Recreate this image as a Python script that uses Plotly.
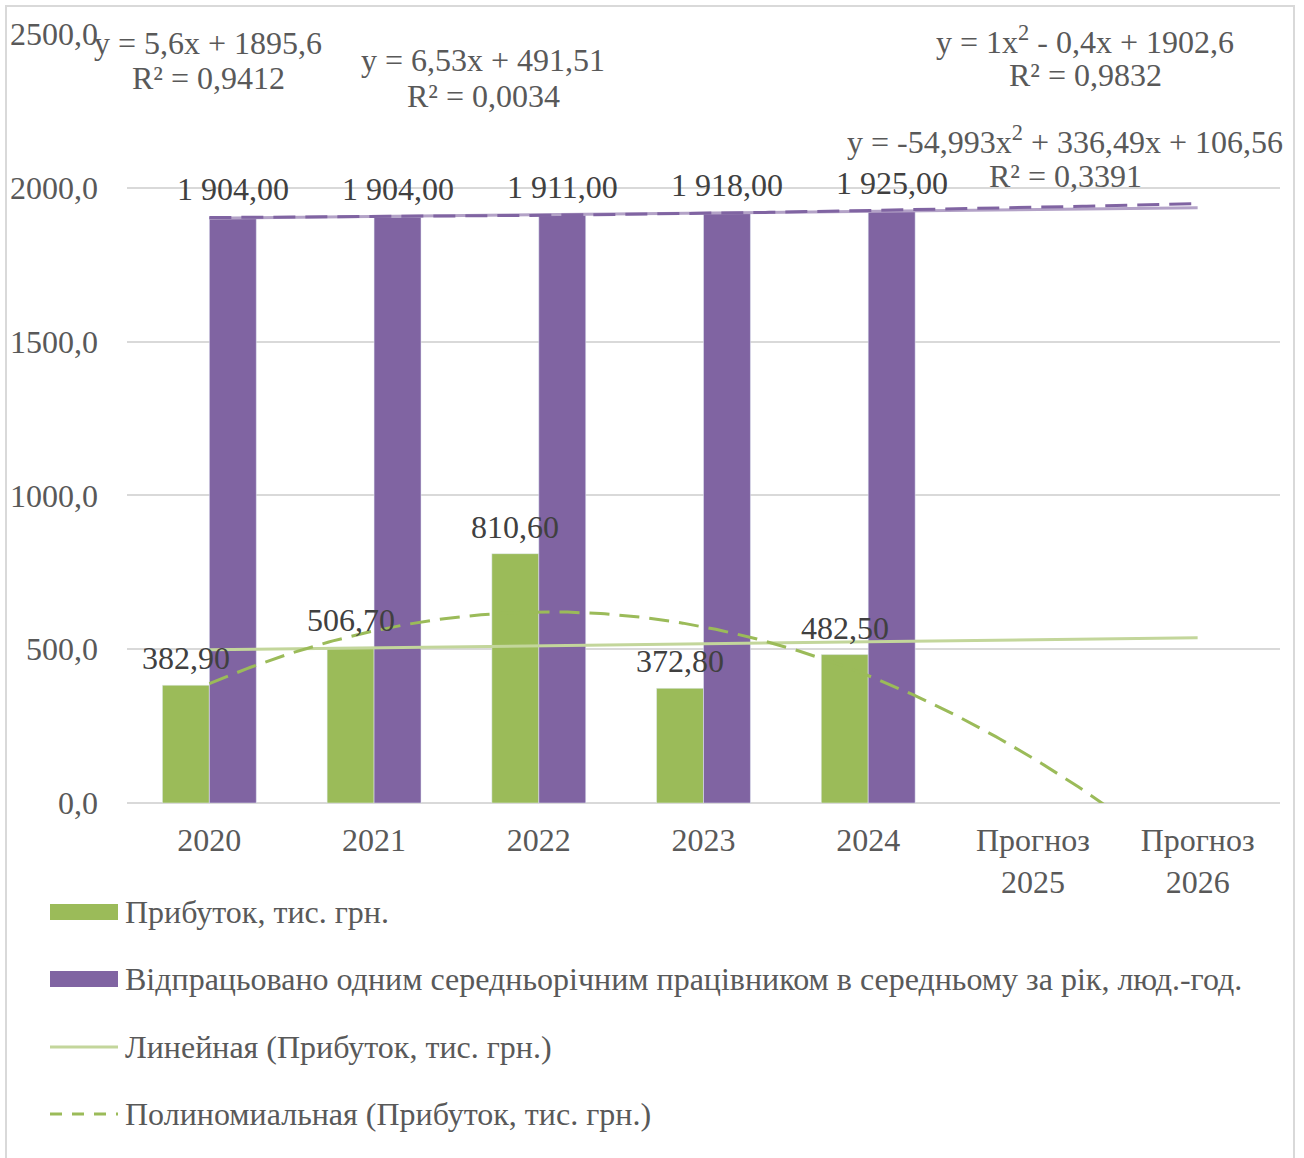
import numpy as np
import plotly.graph_objects as go

# ---------------- data ----------------
categories = ["2020", "2021", "2022", "2023", "2024", "Прогноз<br>2025", "Прогноз<br>2026"]
profit = [382.9, 506.7, 810.6, 372.8, 482.5]
hours = [1904.0, 1904.0, 1911.0, 1918.0, 1925.0]
profit_name = "Прибуток, тис. грн."
hours_name = "Відпрацьовано одним середньорічним працівником в середньому за рік, люд.-год."
trend_names = ["Линейная (Прибуток, тис. грн.)", "Полиномиальная (Прибуток, тис. грн.)"]
y_ticks = [0, 500, 1000, 1500, 2000, 2500]
eq_hours_lin = ["y = 5,6x + 1895,6", "R² = 0,9412"]
eq_profit_lin = ["y = 6,53x + 491,51", "R² = 0,0034"]
eq_hours_poly = ["y = 1x<sup>2</sup> - 0,4x + 1902,6", "R² = 0,9832"]
eq_profit_poly = ["y = -54,993x<sup>2</sup> + 336,49x + 106,56", "R² = 0,3391"]

# ---------------- styling ----------------
W, H = 1304, 1158
ML, MR, MT, MB = 127, 24, 34, 355
PW, PH = W - ML - MR, H - MT - MB
FONT = "Liberation Serif"
FS = 32
GREEN, PURPLE = "#9BBB59", "#8064A2"
GREEN_L, PURPLE_L = "#C3D69B", "#B3A2C7"
TXT, LBL = "#595959", "#404040"
BW = 0.285


def px_x(px):
    return (px - ML) / PW


def px_y(py):
    return (H - MB - py) / PH


xs = np.arange(len(profit))
t = np.linspace(0, len(categories) - 1, 241)
ex = t + 1  # Excel trendline x (1-based)
xfit = np.arange(1, len(profit) + 1)
p_lin = np.polyval(np.polyfit(xfit, profit, 1), ex)
p_poly = np.polyval(np.polyfit(xfit, profit, 2), ex)
h_lin = np.polyval(np.polyfit(xfit, hours, 1), ex)
h_poly = np.polyval(np.polyfit(xfit, hours, 2), ex)

fig = go.Figure()
fig.add_trace(go.Bar(x=xs, y=profit, width=BW, offset=-BW, marker_color=GREEN,
                     name=profit_name, showlegend=False))
fig.add_trace(go.Bar(x=xs, y=hours, width=BW, offset=0, marker_color=PURPLE,
                     name=hours_name, showlegend=False))
fig.add_trace(go.Scatter(x=t, y=h_lin, mode="lines", line=dict(color=PURPLE_L, width=3),
                         showlegend=False, hoverinfo="skip"))
fig.add_trace(go.Scatter(x=t, y=h_poly, mode="lines",
                         line=dict(color=PURPLE, width=3, dash="22px,10px"),
                         showlegend=False, hoverinfo="skip"))
fig.add_trace(go.Scatter(x=t, y=p_lin, mode="lines", line=dict(color=GREEN_L, width=3),
                         name=trend_names[0], showlegend=False, hoverinfo="skip"))
fig.add_trace(go.Scatter(x=t, y=p_poly, mode="lines",
                         line=dict(color=GREEN, width=3, dash="20px,10px"),
                         name=trend_names[1], showlegend=False, hoverinfo="skip"))

ann = []
# data labels
for i, v in enumerate(profit):
    ann.append(dict(x=i - BW / 2, y=v, xref="x", yref="y", text=f"{v:.2f}".replace(".", ","),
                    showarrow=False, yanchor="bottom", yshift=7,
                    font=dict(family=FONT, size=FS, color=LBL)))
for i, v in enumerate(hours):
    s = f"{v:,.2f}".replace(",", " ").replace(".", ",")
    ann.append(dict(x=i + BW / 2, y=v, xref="x", yref="y", text=s,
                    showarrow=False, yanchor="bottom", yshift=8,
                    font=dict(family=FONT, size=FS, color=LBL)))

# trend equations (two lines each)
for lines, cx, cy1, cy2 in [(eq_hours_lin, 208, 43, 78), (eq_profit_lin, 483, 60, 96),
                            (eq_hours_poly, 1085, 40, 75), (eq_profit_poly, 1065, 140, 176)]:
    for txt, cy in zip(lines, (cy1, cy2)):
        ann.append(dict(x=px_x(cx), y=px_y(cy), xref="paper", yref="paper", text=txt,
                        showarrow=False, xanchor="center", yanchor="middle", align="center",
                        font=dict(family=FONT, size=FS, color=TXT)))

# manual legend
shapes = []
legend_rows = [(profit_name, "rect", GREEN, 912),
               (hours_name, "rect", PURPLE, 979),
               (trend_names[0], "line", GREEN_L, 1047),
               (trend_names[1], "dash", GREEN, 1114)]
for name, kind, col, cy in legend_rows:
    if kind == "rect":
        shapes.append(dict(type="rect", xref="paper", yref="paper",
                           x0=px_x(50), x1=px_x(118), y0=px_y(cy - 8), y1=px_y(cy + 8),
                           fillcolor=col, line=dict(width=0)))
    else:
        shapes.append(dict(type="line", xref="paper", yref="paper",
                           x0=px_x(50), x1=px_x(118), y0=px_y(cy), y1=px_y(cy),
                           line=dict(color=col, width=3,
                                     dash="12px,10px" if kind == "dash" else "solid")))
    ann.append(dict(x=px_x(123), y=px_y(cy), xref="paper", yref="paper", text=name,
                    showarrow=False, xanchor="left", yanchor="middle",
                    font=dict(family=FONT, size=FS, color=TXT)))

# outer border
shapes.append(dict(type="rect", xref="paper", yref="paper", layer="below",
                   x0=px_x(6), x1=px_x(1294), y0=px_y(1170), y1=px_y(6),
                   line=dict(color="#D9D9D9", width=2), fillcolor="rgba(0,0,0,0)"))

fig.update_layout(
    width=W, height=H,
    margin=dict(l=ML, r=MR, t=MT, b=MB, autoexpand=False),
    paper_bgcolor="white", plot_bgcolor="white",
    separators=", ",
    showlegend=False,
    barmode="overlay",
    annotations=ann, shapes=shapes,
    font=dict(family=FONT, size=FS, color=TXT),
    xaxis=dict(range=[-0.5, len(categories) - 0.5], tickvals=list(range(len(categories))),
               ticktext=categories, showgrid=False, zeroline=False, showline=False,
               ticks="", ticklabelstandoff=15, automargin=False,
               tickfont=dict(family=FONT, size=FS, color=TXT)),
    yaxis=dict(range=[0, 2500], tickvals=y_ticks, tickformat=".1f",
               showgrid=True, gridcolor="#D9D9D9", gridwidth=1.5,
               zeroline=True, zerolinecolor="#D9D9D9", zerolinewidth=1.5,
               showline=False, ticks="", ticklabelstandoff=28, automargin=False,
               tickfont=dict(family=FONT, size=FS, color=TXT)),
)

fig.write_html("out.html")
